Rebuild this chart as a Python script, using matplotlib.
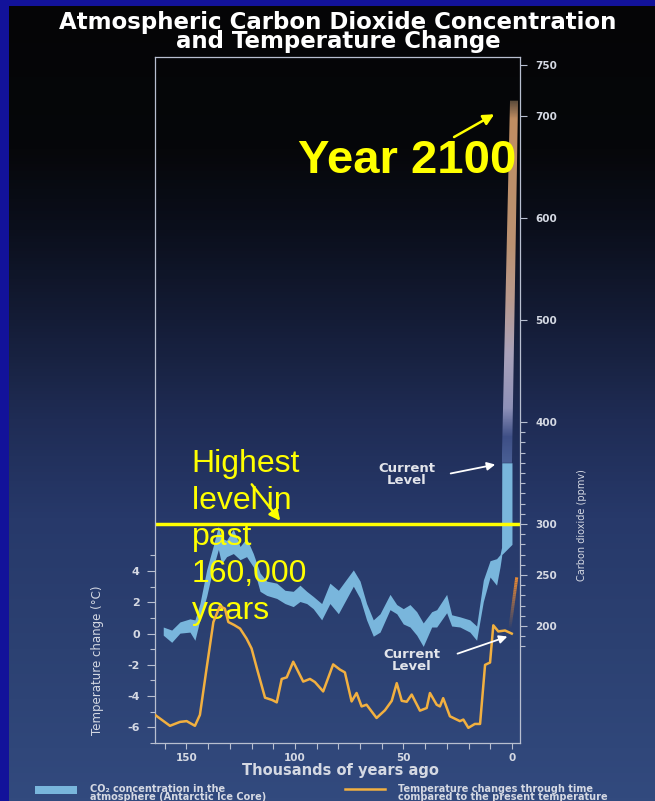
import matplotlib.pyplot as plt
import numpy as np
from matplotlib.colors import LinearSegmentedColormap
from matplotlib.patches import Polygon, Rectangle
from matplotlib.lines import Line2D
from matplotlib.collections import LineCollection

plt.rcParams['axes.unicode_minus'] = False

# temperature change (deg C) compared to present, thousands of years ago
temp_kyr = [164.5, 157.6, 153.0, 149.9, 146.1, 143.8, 140.7, 137.6, 134.6, 132.3,
            130.7, 128.0, 125.3, 122.3, 120.0, 117.6, 113.8, 110.5, 108.4, 106.1,
            103.8, 100.8, 96.2, 93.1, 90.8, 87.0, 82.4, 79.3, 77.0, 73.9,
            71.6, 69.3, 67.0, 62.4, 58.5, 55.4, 53.1, 50.8, 48.5, 46.2,
            42.4, 39.3, 37.8, 34.7, 33.2, 31.7, 28.6, 24.0, 22.4, 20.1,
            17.1, 14.7, 12.4, 10.1, 8.6, 6.3, 3.2, 0.1]
temp_c = [-5.2, -5.9, -5.65, -5.6, -5.9, -5.2, -2.2, 0.74, 1.76, 1.6,
          0.74, 0.55, 0.32, -0.32, -0.95, -2.2, -4.1, -4.25, -4.4, -2.9,
          -2.8, -1.8, -3.07, -2.9, -3.1, -3.7, -1.97, -2.3, -2.48, -4.34,
          -3.8, -4.66, -4.55, -5.4, -4.9, -4.3, -3.17, -4.3, -4.36, -3.9,
          -4.93, -4.76, -3.8, -4.55, -4.66, -4.13, -5.29, -5.6, -5.5, -6.03,
          -5.78, -5.78, -2.0, -1.85, 0.53, 0.14, 0.2, 0.0]

# CO2 concentration band (ppmv), Antarctic ice core + current level
co2_kyr = [160.7, 156.8, 153.0, 148.4, 146.1, 143.8, 140.7, 137.6, 135.3, 133.8,
           131.5, 128.4, 125.3, 122.3, 119.2, 116.1, 113.0, 108.4, 104.6, 100.8,
           97.7, 94.6, 91.6, 87.7, 83.9, 80.0, 73.1, 70.0, 67.0, 63.9,
           60.8, 56.2, 53.1, 50.1, 47.0, 43.9, 40.9, 37.0, 34.7, 30.1,
           27.8, 24.0, 19.4, 16.3, 13.2, 10.1, 7.1, 5.5, 4.8, 4.7, 0.0]
co2_hi = [199, 196, 204, 207, 206, 222, 255, 279, 298, 286,
          284, 295, 278, 286, 271, 252, 244, 242, 235, 234,
          240, 234, 229, 222, 242, 235, 255, 244, 222, 206,
          212, 231, 221, 217, 221, 214, 203, 214, 216, 231,
          211, 209, 206, 200, 245, 264, 266, 270, 277, 360, 360]
co2_lo = [191, 184, 193, 194, 186, 206, 229, 258, 275, 261,
          268, 271, 265, 268, 258, 234, 230, 227, 222, 219,
          224, 222, 217, 206, 222, 212, 239, 227, 206, 190,
          194, 216, 212, 202, 199, 191, 180, 199, 199, 213,
          200, 199, 194, 186, 224, 248, 240, 258, 268, 270, 280]

# projection to year 2100
future_kyr = [4.7, 0.0, -2.8, 0.9]
future_ppm = [360, 360, 715, 715]
future_temp_kyr = [0.9, -2.2]
future_temp_c = [0.4, 3.6]

highest_past = 300

xtick_vals = list(range(0, 161, 10))
xtick_labels = [str(v) if v % 50 == 0 else '' for v in xtick_vals]
t_major = [-6, -4, -2, 0, 2, 4]
t_minor = [-7, -5, -3, -1, 1, 3, 5]
c_major = [200, 250, 300, 400, 500, 600, 700, 750]
c_minor = [v for v in range(180, 400, 10) if v not in c_major]

band_c = '#79b6dc'
temp_col = '#f2b040'
spine_c = '#b8bfd0'
lbl_c = '#d5d9e3'
yel = '#ffff00'

fig = plt.figure(figsize=(6.55, 8.01), dpi=100, facecolor='#12129a')

# background gradient (black at top -> navy at bottom)
bg = fig.add_axes([9/655, 0, 646/655, 795/801], zorder=-10)
bg_cmap = LinearSegmentedColormap.from_list('bg', [
    (0, '#050506'), (0.18, '#06070a'), (0.28, '#0b0f1c'), (0.395, '#141c36'),
    (0.52, '#1f2c55'), (0.645, '#27396a'), (0.81, '#2c4172'), (1, '#324a7e')])
bg.imshow(np.linspace(0, 1, 256).reshape(-1, 1), cmap=bg_cmap, aspect='auto')
bg.axis('off')

ax = fig.add_axes([155/655, 58/801, 365/655, 686/801])
ax2 = ax.twinx()
ax.set_zorder(ax2.get_zorder() + 1)
ax.patch.set_visible(False)
ax2.patch.set_visible(False)

# CO2 band
ax2.fill_between(co2_kyr, co2_lo, co2_hi, color=band_c, lw=0, zorder=2)

# future column with colour gradient
fut_cmap = LinearSegmentedColormap.from_list('fut', [
    (0, '#4a5f95'), (0.07, '#3e4f86'), (0.15, '#8e91b8'), (0.3, '#a9a2bb'),
    (0.45, '#b99a8e'), (0.6, '#bb9272'), (0.95, '#c08d62'), (1, '#5a4a3a')])
poly = Polygon(np.column_stack([future_kyr, future_ppm]), closed=True,
               transform=ax2.transData, facecolor='none', edgecolor='none')
ax2.add_patch(poly)
grad = ax2.imshow(np.linspace(0, 1, 256).reshape(-1, 1), cmap=fut_cmap, origin='lower',
                  aspect='auto', zorder=2,
                  extent=(min(future_kyr), max(future_kyr), min(future_ppm), max(future_ppm)))
grad.set_clip_path(poly)

ax2.axhline(highest_past, color=yel, lw=2.5, zorder=5)

# temperature
ax.plot(temp_kyr, temp_c, color=temp_col, lw=1.8, zorder=3)
fx = np.linspace(future_temp_kyr[0], future_temp_kyr[1], 30)
fy = np.linspace(future_temp_c[0], future_temp_c[1], 30)
segs = [[(fx[i], fy[i]), (fx[i+1], fy[i+1])] for i in range(len(fx) - 1)]
alphas = np.linspace(0.05, 1, len(segs))
cols = [(0.93, 0.55, 0.2, a) for a in alphas]
ax.add_collection(LineCollection(segs, colors=cols, lw=2.2, zorder=3))

ax.set_xlim(164.5, -3.7)
ax.set_ylim(-6.82, 36.9)
ax2.set_ylim(85.3, 757.8)

# ticks
ax.set_xticks(xtick_vals)
ax.set_xticklabels(xtick_labels)
ax.set_yticks(t_major)
ax.set_yticks(t_minor, minor=True)
ax2.set_yticks(c_major)
ax2.set_yticks(c_minor, minor=True)
ax.tick_params(axis='x', direction='out', length=4, width=0.8, color=spine_c,
               labelcolor=lbl_c, labelsize=7.5, pad=3)
ax.tick_params(axis='y', which='major', direction='out', length=6, width=0.8,
               color=spine_c, labelcolor=lbl_c, labelsize=8, pad=5)
ax.tick_params(axis='y', which='minor', direction='out', length=3.5, width=0.8, color=spine_c)
ax2.tick_params(axis='y', which='major', direction='out', length=5, width=0.8,
                color=spine_c, labelcolor=lbl_c, labelsize=7.5, pad=6)
ax2.tick_params(axis='y', which='minor', direction='out', length=3.3, width=0.8, color=spine_c)
for lab in ax.get_xticklabels() + ax.get_yticklabels() + ax2.get_yticklabels():
    lab.set_fontweight('bold')
for s in ax.spines.values():
    s.set_color(spine_c)
    s.set_linewidth(0.9)
for s in ax2.spines.values():
    s.set_visible(False)

# annotations
ax2.text(98.6, 644, 'Year 2100', family='Liberation Sans', fontsize=34,
         weight='bold', color=yel, ha='left', va='baseline', zorder=6)
ax2.annotate('', xy=(7.05, 703), xytext=(27.8, 678),
             arrowprops=dict(arrowstyle='-|>', color=yel, lw=1.8, mutation_scale=16))
ax2.text(147.6, 286.8, 'Highest\nlevel in\npast\n160,000\nyears', family='Liberation Sans',
         fontsize=23, color=yel, ha='left', va='center', linespacing=1.3, zorder=6)
ax2.annotate('', xy=(106, 301), xytext=(120.7, 341),
             arrowprops=dict(arrowstyle='-|>', color=yel, lw=1.8, mutation_scale=16))
ax2.text(48.4, 349, 'Current\nLevel', fontsize=9.5, weight='bold', color='#e2e4ea',
         ha='center', va='center', linespacing=0.9)
ax2.annotate('', xy=(6.45, 358.8), xytext=(29.5, 349),
             arrowprops=dict(arrowstyle='-|>', color='white', lw=1.3, mutation_scale=12))
ax.text(46.1, -1.69, 'Current\nLevel', fontsize=9.5, weight='bold', color='#e2e4ea',
        ha='center', va='center', linespacing=0.9)
ax.annotate('', xy=(0.9, -0.13), xytext=(26.3, -1.34),
            arrowprops=dict(arrowstyle='-|>', color='white', lw=1.3, mutation_scale=12))

# titles and axis labels
fig.text(338/655, 1 - 32/801, 'Atmospheric Carbon Dioxide Concentration\nand Temperature Change',
         ha='center', va='center', fontsize=16.5, weight='bold', color='white',
         linespacing=0.78)
fig.text(340/655, 1 - 770/801, 'Thousands of years ago', ha='center', va='center',
         fontsize=10.5, weight='bold', color=lbl_c)
fig.text(98/655, 1 - 660/801, 'Temperature change (°C)', rotation=90, ha='center',
         va='center', fontsize=8.5, color=lbl_c)
fig.text(582/655, 1 - 525/801, 'Carbon dioxide (ppmv)', rotation=90, ha='center',
         va='center', fontsize=7, color=lbl_c)

# legend
fig.patches.append(Rectangle((35/655, 1 - 794/801), 42/655, 8/801,
                             transform=fig.transFigure, facecolor=band_c, lw=0))
fig.text(90/655, 1 - 793/801, 'CO₂ concentration in the\natmosphere (Antarctic Ice Core)',
         fontsize=7, weight='bold', color=lbl_c, va='center', linespacing=0.8)
fig.lines.append(Line2D([345/655, 385/655], [1 - 789/801] * 2, transform=fig.transFigure,
                        color=temp_col, lw=1.8))
fig.text(398/655, 1 - 793/801, 'Temperature changes through time\ncompared to the present temperature',
         fontsize=7, weight='bold', color=lbl_c, va='center', linespacing=0.8)

fig.savefig('out.png', dpi=100, facecolor=fig.get_facecolor())
